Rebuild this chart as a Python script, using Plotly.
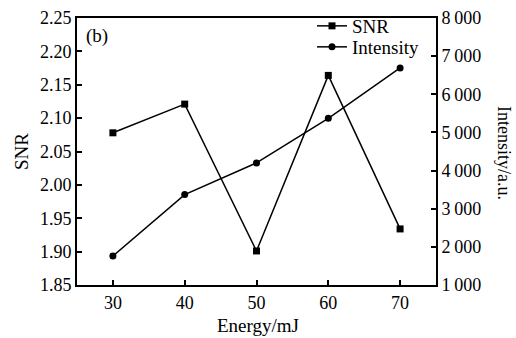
import plotly.graph_objects as go

energy = [30, 40, 50, 60, 70]
snr = [2.078, 2.121, 1.901, 2.164, 1.934]
intensity = [1760, 3370, 4200, 5370, 6690]

left_ticks = [1.85, 1.90, 1.95, 2.00, 2.05, 2.10, 2.15, 2.20, 2.25]
left_labels = ["1.85", "1.90", "1.95", "2.00", "2.05", "2.10", "2.15", "2.20", "2.25"]
right_ticks = [1000, 2000, 3000, 4000, 5000, 6000, 7000, 8000]
right_labels = ["1\u2009000", "2\u2009000", "3\u2009000", "4\u2009000", "5\u2009000", "6\u2009000", "7\u2009000", "8\u2009000"]
x_ticks = [30, 40, 50, 60, 70]

FONT = "Liberation Serif"
W, H = 516, 338
L, R, T, B = 77, 80, 18, 53
PW, PH = W - L - R, H - T - B


def px_x(x):
    return (x - L) / PW


def px_y(y):
    return (H - B - y) / PH


fig = go.Figure()
fig.add_trace(go.Scatter(
    x=energy, y=snr, name="SNR", mode="lines+markers", legend="legend",
    line=dict(color="black", width=1.5),
    marker=dict(symbol="square", size=7, color="black"),
))
fig.add_trace(go.Scatter(
    x=energy, y=intensity, name="Intensity", mode="lines+markers", yaxis="y2",
    legend="legend2",
    line=dict(color="black", width=1.5),
    marker=dict(symbol="circle", size=7, color="black"),
))

leg_common = dict(xanchor="left", yanchor="middle", bgcolor="rgba(0,0,0,0)",
                  font=dict(family=FONT, size=19), borderwidth=0)

fig.update_layout(
    width=W, height=H,
    margin=dict(l=L, r=R, t=T, b=B, autoexpand=False),
    paper_bgcolor="white", plot_bgcolor="white",
    font=dict(family=FONT, size=18, color="black"),
    showlegend=True,
    legend=dict(x=px_x(312), y=px_y(26), **leg_common),
    legend2=dict(x=px_x(312), y=px_y(47), **leg_common),
    xaxis=dict(range=[25, 75], tickvals=x_ticks, ticks="inside", ticklen=5,
               tickwidth=1.5, tickcolor="black", showline=True, linecolor="black",
               linewidth=2, mirror=True, showgrid=False, zeroline=False,
               tickfont=dict(size=18), automargin=False),
    yaxis=dict(range=[1.85, 2.25], tickvals=left_ticks, ticktext=left_labels,
               ticks="inside", ticklen=5, tickwidth=1.5, tickcolor="black",
               showline=True, linecolor="black", linewidth=2, showgrid=False,
               zeroline=False, tickfont=dict(size=18), automargin=False),
    yaxis2=dict(range=[1000, 8000], tickvals=right_ticks, ticktext=right_labels,
                overlaying="y", side="right", ticks="inside", ticklen=5,
                tickwidth=1.5, tickcolor="black", showline=True, linecolor="black",
                linewidth=2, showgrid=False, zeroline=False, tickfont=dict(size=18),
                automargin=False),
    annotations=[
        dict(text="(b)", x=px_x(84), y=px_y(36), xref="paper", yref="paper",
             xanchor="left", yanchor="middle", showarrow=False,
             font=dict(family=FONT, size=19)),
        dict(text="Energy/mJ", x=px_x(258), y=px_y(325), xref="paper", yref="paper",
             xanchor="center", yanchor="middle", showarrow=False,
             font=dict(family=FONT, size=19)),
        dict(text="SNR", x=px_x(21), y=px_y(152), xref="paper", yref="paper",
             xanchor="center", yanchor="middle", showarrow=False, textangle=-90,
             font=dict(family=FONT, size=19)),
        dict(text="Intensity/a.u.", x=px_x(504), y=px_y(153), xref="paper", yref="paper",
             xanchor="center", yanchor="middle",
             showarrow=False, textangle=90, font=dict(family=FONT, size=18)),
    ],
)

fig.write_html("out.html")
